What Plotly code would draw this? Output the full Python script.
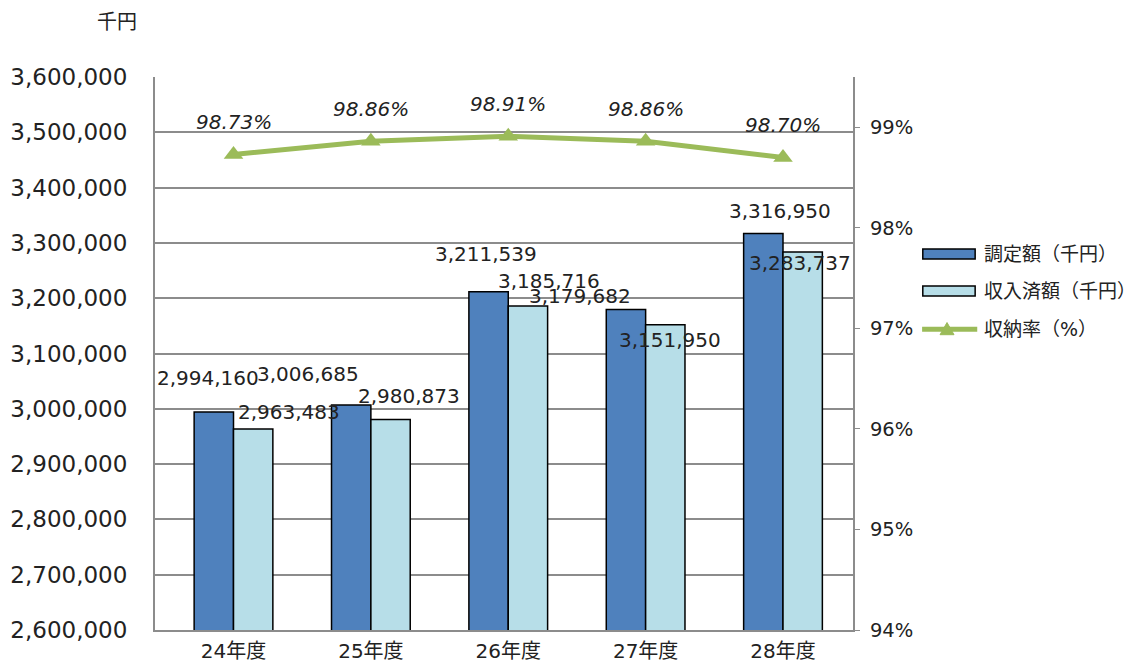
import plotly.graph_objects as go

categories = ["24年度", "25年度", "26年度", "27年度", "28年度"]
assessed = [2994160, 3006685, 3211539, 3179682, 3316950]
collected = [2963483, 2980873, 3185716, 3151950, 3283737]
rate = [98.73, 98.86, 98.91, 98.86, 98.70]

name_assessed = "調定額（千円）"
name_collected = "収入済額（千円）"
name_rate = "収納率（%）"
unit_label = "千円"

# label placement offsets (pixels), style only
lab_dx_a = [-5.5, -42.5, -2.5, -45.5, 17]
lab_dy_a = [34.5, 31.5, 38, 13.5, 23]
lab_dx_c = [35, 18.5, 21, 4.5, -3]
lab_dy_c = [17, 23.5, 25.5, -15, -11]

FONT = "DejaVu Sans, Noto Sans CJK JP, sans-serif"
GRID = "#8c8c8c"
C_DARK = "#4F81BD"
C_LIGHT = "#B7DEE8"
C_LINE = "#9BBB59"

fig = go.Figure()
fig.add_trace(go.Bar(
    x=categories, y=assessed, name=name_assessed,
    marker=dict(color=C_DARK, line=dict(color="black", width=1.5)),
    offsetgroup="a"))
fig.add_trace(go.Bar(
    x=categories, y=collected, name=name_collected,
    marker=dict(color=C_LIGHT, line=dict(color="black", width=1.5)),
    offsetgroup="b"))
fig.add_trace(go.Scatter(
    x=categories, y=rate, name=name_rate, yaxis="y2",
    mode="lines+markers",
    line=dict(color=C_LINE, width=5),
    marker=dict(symbol="triangle-up", size=17, color=C_LINE)))

ann = []
for i, c in enumerate(categories):
    ann.append(dict(x=c, y=assessed[i], xref="x", yref="y", text=f"{assessed[i]:,}",
                    showarrow=False, xshift=-20 + lab_dx_a[i], yshift=lab_dy_a[i],
                    font=dict(size=20, color="#222", family=FONT)))
    ann.append(dict(x=c, y=collected[i], xref="x", yref="y", text=f"{collected[i]:,}",
                    showarrow=False, xshift=20 + lab_dx_c[i], yshift=lab_dy_c[i],
                    font=dict(size=20, color="#222", family=FONT)))
    ann.append(dict(x=c, y=rate[i], xref="x", yref="y2", text=f"<i>{rate[i]:.2f}%</i>",
                    showarrow=False, yshift=32,
                    font=dict(size=20, color="#222", family=FONT)))
ann.append(dict(x=-0.0544, y=1.0995, xref="paper", yref="paper", text=unit_label,
                showarrow=False, xanchor="center", yanchor="middle",
                font=dict(size=20, color="#222", family=FONT)))

# manual legend (wide rectangle swatches like the original)
leg_names = [name_assessed, name_collected, name_rate]
leg_y = [0.680, 0.613, 0.544]
shapes = [
    dict(type="rect", xref="paper", yref="paper", x0=1.100, x1=1.175,
         y0=leg_y[0] - 0.009, y1=leg_y[0] + 0.009,
         fillcolor=C_DARK, line=dict(color="black", width=1.5)),
    dict(type="rect", xref="paper", yref="paper", x0=1.100, x1=1.175,
         y0=leg_y[1] - 0.009, y1=leg_y[1] + 0.009,
         fillcolor=C_LIGHT, line=dict(color="black", width=1.5)),
    dict(type="line", xref="paper", yref="paper", x0=1.099, x1=1.178,
         y0=leg_y[2], y1=leg_y[2], line=dict(color=C_LINE, width=5)),
    dict(type="path", xref="paper", yref="paper",
         path=f"M 1.1247 {leg_y[2]-0.010} L 1.1447 {leg_y[2]-0.010} L 1.1347 {leg_y[2]+0.012} Z",
         fillcolor=C_LINE, line=dict(color=C_LINE, width=1)),
]
for name, yy in zip(leg_names, leg_y):
    ann.append(dict(x=1.1848, y=yy, xref="paper", yref="paper", text=name,
                    showarrow=False, xanchor="left", yanchor="middle",
                    font=dict(size=19, color="#222", family=FONT)))

fig.update_layout(
    width=1142, height=665,
    margin=dict(l=147, r=297, t=69, b=43),
    paper_bgcolor="white", plot_bgcolor="white",
    barmode="group", bargap=0.427, bargroupgap=0,
    font=dict(family=FONT, color="#222"),
    showlegend=False,
    xaxis=dict(showline=True, linecolor=GRID, linewidth=2, mirror=False,
               tickfont=dict(size=20, family=FONT), ticks="", showgrid=False,
               ticklabelstandoff=2, automargin=False),
    yaxis=dict(range=[2600000, 3600000], dtick=100000, tickformat=",d",
               showgrid=True, gridcolor=GRID, gridwidth=1.5,
               showline=True, linecolor=GRID, linewidth=2,
               ticks="", ticklabelstandoff=21, automargin=False,
               tickfont=dict(size=23, family=FONT), zeroline=False),
    yaxis2=dict(range=[94, 99.5], dtick=1, overlaying="y", side="right",
                ticksuffix="%", showgrid=False, showline=True, linecolor=GRID,
                linewidth=2, ticks="outside", ticklen=5, tickcolor=GRID,
                ticklabelstandoff=6, automargin=False,
                tickfont=dict(size=19.5, family=FONT), zeroline=False),
    annotations=ann,
    shapes=shapes,
)

fig.write_html("out.html")
